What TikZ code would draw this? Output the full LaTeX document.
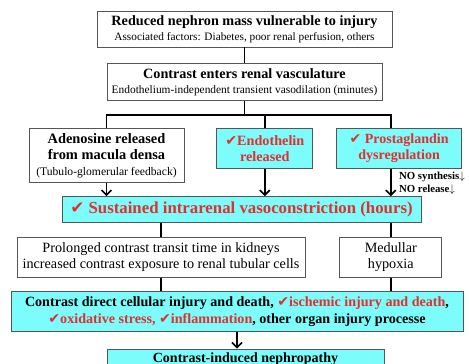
\documentclass[tikz,border=0pt]{standalone}
\usepackage{fontspec}
\setmainfont{Liberation Serif}
\newfontfamily\symfont{DejaVu Sans}
\usepackage{xcolor}
\usepackage{tikz}
\usetikzlibrary{arrows.meta, positioning}
\definecolor{cinred}{RGB}{228, 45, 45}
\definecolor{cincyan}{RGB}{125, 252, 252}
\definecolor{edgegray}{RGB}{85, 85, 85}
\newcommand{\chk}{{\symfont\char"2714}}

\begin{document}
\begin{tikzpicture}[
      x=1pt, y=1pt,
      box/.style={
        rectangle, draw=edgegray, line width=0.8pt, fill=white,
        inner sep=2pt, align=center, font=\fontsize{14.2}{16}\selectfont
      },
      cbox/.style={box, fill=cincyan},
      hot/.style={text=cinred},
      ln/.style={line width=1.6pt, black},
      arr/.style={ln, -{Straight Barb[length=5pt, width=10pt, line width=1.6pt]}},
      note/.style={font=\fontsize{10.8}{13}\selectfont\bfseries, align=left, inner sep=0pt}
  ]
    \useasboundingbox (0,0) rectangle (469,-364);

    \node[box, font=\fontsize{14.2}{15}\selectfont, minimum width=295pt, minimum height=36pt] (top) at (244.5,-29)
      {{\bfseries Reduced nephron mass vulnerable to injury}\\
       {\fontsize{11.3}{13}\selectfont Associated factors: Diabetes, poor renal perfusion, others}};
    \node[box, font=\fontsize{14.2}{15}\selectfont, minimum width=275pt, minimum height=37pt] (enter) [below=16pt of top]
      {{\bfseries Contrast enters renal vasculature}\\
       {\fontsize{11.4}{13}\selectfont Endothelium-independent transient vasodilation (minutes)}};

    \node[box, font=\fontsize{14.4}{16}\selectfont\bfseries, minimum width=155pt, minimum height=54pt]
      (aden) [below=27pt of enter, xshift=-138pt]
      {Adenosine released\\ from macula densa\\
       {\fontsize{11.6}{13}\selectfont\mdseries (Tubulo-glomerular feedback)}};
    \node[cbox, hot, font=\fontsize{14.2}{16}\selectfont\bfseries, minimum width=96pt, minimum height=40pt]
      (endo) [right=32pt of aden.north east, anchor=north west]
      {\chk Endothelin\\ released};
    \node[cbox, hot, font=\fontsize{14}{16}\selectfont\bfseries, minimum width=125pt, minimum height=40pt]
      (prost) [right=23pt of endo]
      {\chk{} Prostaglandin\\ dysregulation};

    \node[cbox, hot, font=\fontsize{16.8}{18}\selectfont\bfseries, minimum width=359pt, minimum height=26pt]
      (sust) [below=95pt of enter, xshift=-3pt]
      {\chk{} Sustained intrarenal vasoconstriction (hours)};

    \node[box, minimum width=288pt, minimum height=40pt] (prol) [below=14pt of sust, xshift=-80.5pt]
      {Prolonged contrast transit time in kidneys\\ increased contrast exposure to renal tubular cells};
    \node[box, minimum width=102pt, minimum height=40pt] (med) [right=34pt of prol]
      {Medullar\\ hypoxia};

    \node[cbox, font=\fontsize{14.1}{17}\selectfont\bfseries, minimum width=452pt, minimum height=40pt]
      (direct) [below=13pt of prol, xshift=76pt]
      {Contrast direct cellular injury and death, {\color{cinred}\chk ischemic injury and death},\\
       {\color{cinred}\chk oxidative stress, \chk inflammation}, other organ injury processe};

    \node[cbox, font=\fontsize{14}{16}\selectfont\bfseries, minimum width=277pt,
          inner ysep=3pt, text height=10pt, text depth=18pt]
      (cin) [below=17pt of direct, xshift=8.5pt]
      {Contrast-induced nephropathy};

    \coordinate (fork) at ([yshift=-14pt]enter.south);
    \draw[ln] (top) -- (enter);
    \draw[ln] (enter.south) -- (fork);
    \draw[ln] (aden.north) |- (fork) -| (prost.north -| med);
    \draw[ln] (endo.north) -- (endo.north |- fork);

    \draw[arr] (aden.south) -- (aden.south |- sust.north);
    \draw[arr] (endo.south) -- (endo.south |- sust.north);
    \draw[arr] (prost.south -| med) -- (sust.north -| med);
    \node[note, anchor=north west] (nolbl) at ([xshift=8pt, yshift=-3pt]prost.south -| med)
      {NO synthesis$\downarrow$\\ NO release$\downarrow$};

    \draw[ln] (sust.south -| prol) -- (prol.north);
    \draw[ln] (sust.south -| med) -- (med.north);
    \draw[ln] (prol.south) -- (prol.south |- direct.north);
    \draw[ln] (med.south) -- (med.south |- direct.north);
    \draw[arr] (direct.south) -- (direct.south |- cin.north);
  \end{tikzpicture}
\end{document}
